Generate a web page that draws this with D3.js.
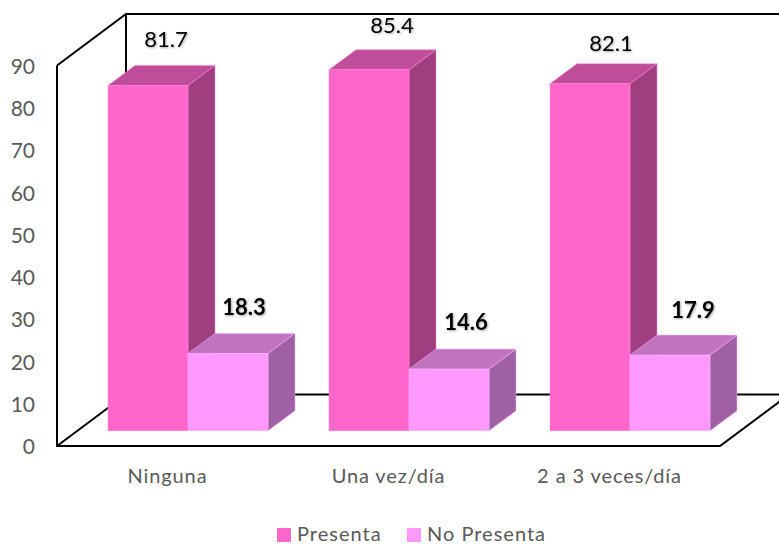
<!DOCTYPE html>
<html><head><meta charset="utf-8">
<script src="https://cdn.jsdelivr.net/npm/d3@7"></script>
<style>html,body{margin:0;padding:0;background:#fff}svg{display:block}text{font-family:Lato,"Open Sans",sans-serif}</style>
</head><body><div id="chart"></div>
<script>
const categories = ["Ninguna", "Una vez/día", "2 a 3 veces/día"];
const seriesNames = ["Presenta", "No Presenta"];
const presenta = [81.7, 85.4, 82.1];
const noPresenta = [18.3, 14.6, 17.9];
const yTicks = [0, 10, 20, 30, 40, 50, 60, 70, 80, 90];

const W = 779, H = 545;
const svg = d3.select("#chart").append("svg").attr("width", W).attr("height", H);
const defs = svg.append("defs");
defs.append("filter").attr("id", "sh").attr("x", "-20%").attr("y", "-20%").attr("width", "140%").attr("height", "140%")
  .append("feDropShadow").attr("dx", 1).attr("dy", 1).attr("stdDeviation", 0.8).attr("flood-color", "#000").attr("flood-opacity", 0.35);

const y = d3.scaleLinear().domain([0, 90]).range([446, 65.5]);
const x = d3.scaleBand().domain(categories).range([57, 720]);
const sub = d3.scaleBand().domain(seriesNames).range([0, 160]);
const barShift = 51;
const baseDrop = 15.2;
const depthX = 27, depthY = 20;
const wallX = 69, wallY = 51.5;

const frame = svg.append("g").attr("fill", "none").attr("stroke", "#000").attr("stroke-width", 2);
const x0 = 57, xr = 720, yb = y(0), yt = y(90);
const box = [
  [[x0, yt], [x0, yb], [xr, yb], [xr + wallX, yb - wallY]],
  [[x0, yt], [x0 + wallX, yt - wallY], [W + 5, yt - wallY]],
  [[x0 + wallX, yt - wallY], [x0 + wallX, yb - wallY], [W + 5, yb - wallY]],
  [[x0, yb], [x0 + wallX, yb - wallY]]
];
frame.selectAll("path").data(box).join("path").attr("d", d3.line());

const colours = {
  "Presenta": {front: "#FF66CC", top: "#C04D99", side: "#A03F80", edge: "#FF85D6"},
  "No Presenta": {front: "#FF99FF", top: "#C074C0", side: "#A060A4", edge: "#FFB3FF"}
};
const rows = [];
categories.forEach((c, i) => {
  rows.push({c, s: "Presenta", v: presenta[i]});
  rows.push({c, s: "No Presenta", v: noPresenta[i]});
});
const bars = svg.append("g").selectAll("g").data(rows).join("g");
const bw = sub.bandwidth();
const bx = d => x(d.c) + barShift + sub(d.s);
const barBase = () => y(0) - baseDrop;
const barTop = d => y(d.v) - baseDrop;
const poly = pts => d3.line()(pts) + "Z";
bars.append("path").attr("fill", d => colours[d.s].side).attr("stroke", d => colours[d.s].edge).attr("stroke-width", 0.5)
  .attr("d", d => poly([[bx(d)+bw, barTop(d)], [bx(d)+bw+depthX, barTop(d)-depthY], [bx(d)+bw+depthX, barBase()-depthY], [bx(d)+bw, barBase()]]));
bars.append("path").attr("fill", d => colours[d.s].top).attr("stroke", d => colours[d.s].edge).attr("stroke-width", 0.5)
  .attr("d", d => poly([[bx(d), barTop(d)], [bx(d)+depthX, barTop(d)-depthY], [bx(d)+bw+depthX, barTop(d)-depthY], [bx(d)+bw, barTop(d)]]));
bars.append("rect").attr("fill", d => colours[d.s].front).attr("stroke", d => colours[d.s].edge).attr("stroke-width", 0.5)
  .attr("x", bx).attr("y", barTop).attr("width", bw).attr("height", d => barBase() - barTop(d));

// data labels: offsets from the bar's top-front-centre, in row order
const labelDx = [18, 16, 23, 17, 21, 23];
const labelDy = [-44, -44, -42, -45, -38, -43];
svg.append("g").selectAll("text").data(rows).join("text")
  .attr("x", (d, i) => bx(d) + bw / 2 + labelDx[i])
  .attr("y", (d, i) => barTop(d) + labelDy[i])
  .attr("text-anchor", "middle").attr("dominant-baseline", "middle")
  .attr("font-size", 22).attr("fill", "#000").attr("filter", "url(#sh)")
  .attr("font-weight", d => d.s === "No Presenta" ? 700 : 400)
  .text(d => d.v.toFixed(1));

// axes
const ya = svg.append("g").attr("transform", "translate(43,1)")
  .call(d3.axisLeft(y).tickValues(yTicks).tickSize(0).tickPadding(8));
ya.select(".domain").remove();
ya.selectAll("text").attr("font-size", 21).attr("fill", "#595959").style("font-family", "Lato");
const xa = svg.append("g").attr("transform", "translate(0,471)")
  .call(d3.axisBottom(x).tickSize(0).tickPadding(0));
xa.select(".domain").remove();
xa.selectAll("text").attr("font-size", 20).attr("fill", "#595959").attr("dy", "0.6em").attr("letter-spacing", 0.9).style("font-family", "Lato");

// legend
const legendX = d3.scaleOrdinal().domain(seriesNames).range([277, 407]);
const lg = svg.append("g").selectAll("g").data(seriesNames).join("g")
  .attr("transform", d => `translate(${legendX(d)},528)`);
lg.append("rect").attr("width", 14).attr("height", 14).attr("fill", d => colours[d].front);
lg.append("text").attr("x", 20).attr("y", 5.5).attr("dy", "0.36em").attr("font-size", 20)
  .attr("letter-spacing", 1.0).attr("fill", "#595959").text(d => d);
</script></body></html>
